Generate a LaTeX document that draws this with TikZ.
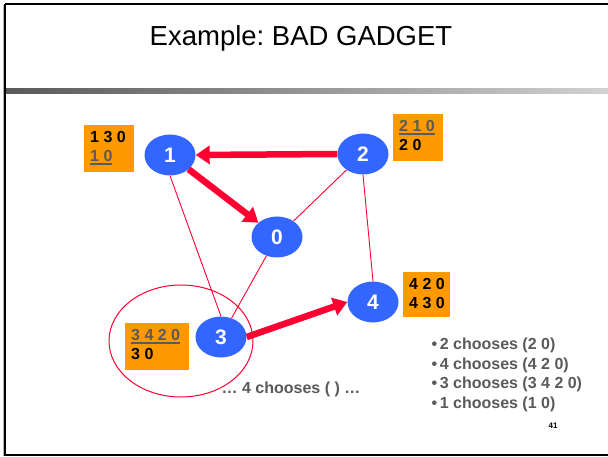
\documentclass[tikz,border=0pt]{standalone}
\usepackage{fontspec}
\setmainfont{Liberation Sans}
\usetikzlibrary{arrows.meta,shapes.geometric}
\definecolor{nodeblue}{RGB}{51,102,255}
\definecolor{boxorange}{RGB}{255,153,0}
\definecolor{linkred}{RGB}{255,0,51}
\definecolor{txtgray}{RGB}{90,90,90}
\newcommand{\gul}[1]{\textcolor{txtgray}{\setbox0\hbox{#1}\rlap{\rule[-3.5pt]{\wd0}{1.6pt}}\box0}}
\frenchspacing
\tikzset{
  asn/.style={ellipse, fill=nodeblue, minimum width=51pt, minimum height=41pt, inner sep=0pt,
    text=white, font=\fontsize{21}{21}\selectfont\bfseries},
  pathbox/.style={fill=boxorange, anchor=north west, inner sep=0pt},
  boxtext/.style={anchor=north west, font=\fontsize{16}{19}\selectfont\bfseries, align=left, inner sep=0pt, xshift=6pt, yshift=-6pt},
  thinlink/.style={draw=linkred, line width=0.9pt},
  thicklink/.style={draw=linkred, line width=6.5pt, -{Triangle[length=14pt,width=18pt]}},
  gtext/.style={text=txtgray, font=\fontsize{16}{19.5}\selectfont\bfseries}
}
\begin{document}
\begin{tikzpicture}[x=1pt,y=-1pt]
\useasboundingbox (0,0) rectangle (608,457);
\fill[white] (0,0) rectangle (608,457);
% frame
\draw[gray!60, line width=1pt] (3,5) -- (3,456);
\draw[black, line width=2.2pt] (5,4) -- (608,4);
\draw[black, line width=2.2pt] (5,4) -- (5,455) -- (608,455);
\shade[left color=black!65, right color=black!18] (6,89) rectangle (608,94);
\node[font=\fontsize{27.5}{27.5}\selectfont] (title) at (301,38) {Example: BAD GADGET};
% AS nodes
\node[asn] (n1) at (170,155) {1};
\node[asn] (n2) at (363,154) {2};
\node[asn] (n0) at (277,237) {0};
\node[asn] (n4) at (373,302) {4};
\node[asn] (n3) at (221,337) {3};
% thin links
\draw[thinlink] (n1.south) -- (n3.north);
\draw[thinlink] (n2) -- (n0);
\draw[thinlink] (n2.south) -- (n4.north);
\draw[thinlink] (n0) -- (n3);
% chosen routes
\draw[thicklink] (n2.west) -- (n1.east);
\draw[thicklink] (n1) -- (n0);
\draw[thicklink] (n3.east) -- (n4.west);
% boxes
\node[pathbox, minimum width=50pt, minimum height=47pt] (b1) at (84,125) {};
\node[boxtext] (t1) at (b1.north west) {1 3 0\\\gul{1 0}};
\node[pathbox, minimum width=50pt, minimum height=47pt] (b2) at (393,114) {};
\node[boxtext] (t2) at (b2.north west) {\gul{2 1 0}\\2 0};
\node[pathbox, minimum width=64pt, minimum height=47pt] (b3) at (125,323) {};
\node[boxtext] (t3) at (b3.north west) {\gul{3 4 2 0}\\3 0};
\node[pathbox, minimum width=47pt, minimum height=45pt] (b4) at (403,272) {};
\node[boxtext] (t4) at (b4.north west) {4 2 0\\4 3 0};
% circle around 3
\draw[linkred, line width=1pt] (181,341) ellipse [x radius=72, y radius=56];
% texts
\node[gtext] (dots) at (291,389) {… 4 chooses ( ) …};
\node[gtext, anchor=west, align=left] (list) at (428,375) {•\,2 chooses (2 0)\\•\,4 chooses (4 2 0)\\•\,3 chooses (3 4 2 0)\\•\,1 chooses (1 0)};
\node[font=\fontsize{8}{8}\selectfont\bfseries] (pg) at (553,426) {41};
\end{tikzpicture}
\end{document}
